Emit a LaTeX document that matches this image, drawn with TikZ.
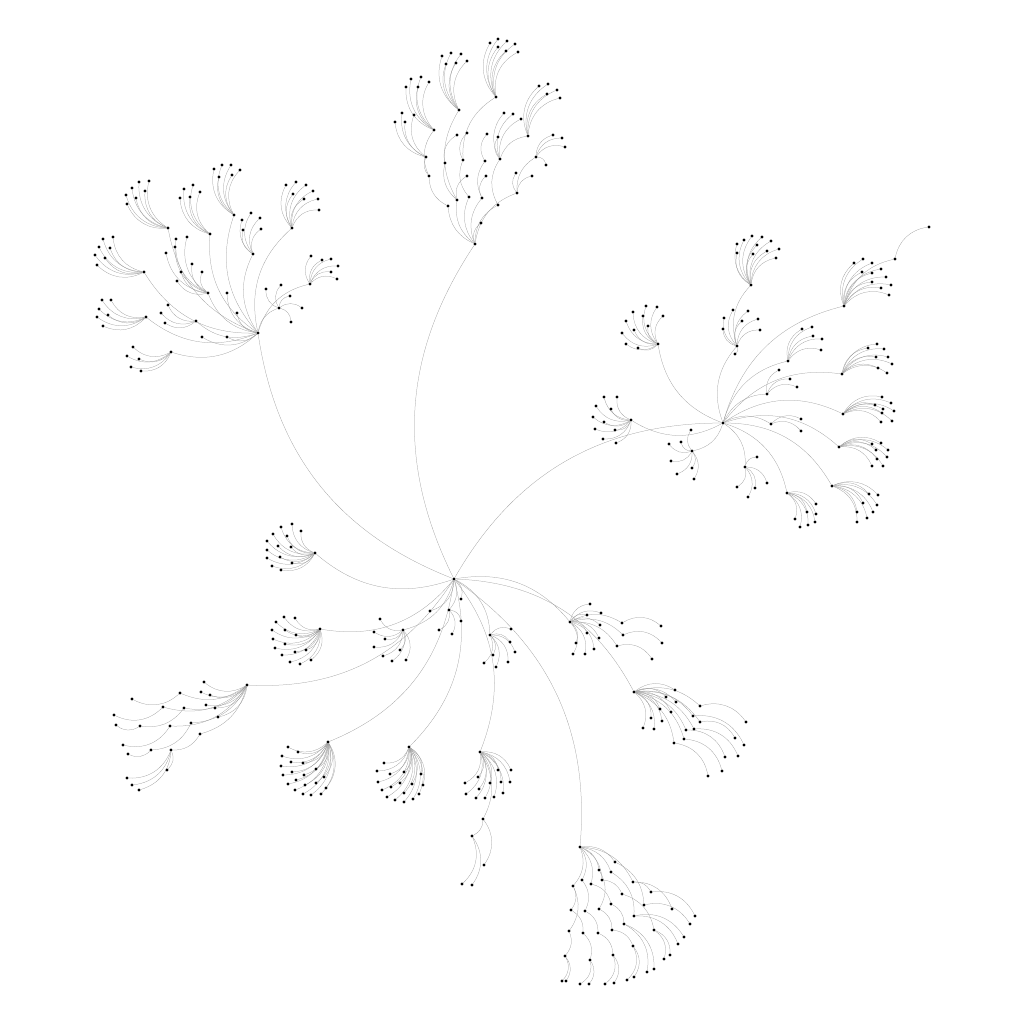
\documentclass[tikz,border=0pt]{standalone}
\pgfdeclarelayer{bg}
\pgfsetlayers{bg,main}
\def\hubs{H1/258/333/C, A1/168/228/H1, B1/210/234/H1, C1/234/215/H1, D1/253/254/H1, E1/292/228/H1, F1/310/284/H1, G1/279/308/H1, Kh/144/272/H1, I1/208/293/H1, J1/196/321/H1, K1/146/317/H1, L1/171/352/H1,
H2/475/244/C, m1/448/206/H2, m2/429/176/m1, D2/426/157/m2, C2/434/130/m2, m10/457/200/H2, m3/445/163/m10, A2/459/110/m10, m5/469/197/H2, m4/463/160/m5, B2/496/97/m4, m6/498/205/H2, F2/500/159/m6, E2/528/136/F2, m7/482/198/H2, m8/485/161/m7, m9/517/193/H2, G2/536/157/m9,
H3/723/423/C, S1/631/420/H3, S2/658/344/H3, S4/737/346/H3, S3/751/285/S4, S5/844/306/H3, T5/895/259/S5, S6/788/361/H3, S7/767/394/H3, S8/842/374/H3, S9/843/414/H3, S10/839/447/H3, S11/832/486/H3, S12/787/493/H3, S13/745/467/H3, S14/692/451/H3, S15/771/424/H3,
P1/315/553/C, P2/320/629/C, P3/403/630/C, P4/449/610/C, P5/490/635/C,
Q/247/685/C, q1/180/693/Q, q2/163/707/Q, q3/184/708/Q, q4/140/726/q3, q5/170/726/Q, q6/191/723/Q, q6b/151/750/q6, q7/200/734/Q, q7b/171/750/q7,
R1/328/742/C, R2/409/747/C, R3/480/752/C, r1/483/819/R3, r2/472/836/r1,
T1/570/622/C, t1/622/623/T1, t2/623/635/T1, t3/617/646/T1,
T2/634/692/C, u1/700/706/T2, u2/693/716/T2, u3/700/722/T2, u4/694/729/T2, u5/686/730/T2, u6/684/739/T2, u7/674/743/T2,
U/580/847/C, n1/615/862/U, n2/599/870/U, n3/611/872/U, n4/582/880/U, n5/573/886/U, n6/591/884/U, n7/602/880/U, n8/633/882/U, a1/651/892/n8, a2/644/905/n1, a3/634/916/n3, a4/622/894/n7, a5/654/930/a4, a6/611/904/n6, a7/624/924/a6, a8/599/909/n2, a9/612/930/a8, a10/633/946/a9, a11/585/911/n4, a12/598/933/a11, a13/613/955/a12, a14/571/910/n5, a15/583/933/a14, a16/590/960/a15, a17/569/931/n5, a18/565/956/a17}
\def\leaves{132/188/A1, 139/182/A1, 149/181/A1, 145/191/A1, 136/198/A1, 126/195/A1, 127/204/A1,
184/189/B1, 193/185/B1, 200/192/B1, 190/197/B1, 180/198/B1,
214/169/C1, 222/165/C1, 231/165/C1, 240/170/C1, 232/175/C1, 219/177/C1,
242/220/D1, 251/213/D1, 260/218/D1, 261/229/D1, 243/230/D1,
286/185/E1, 296/182/E1, 306/185/E1, 313/191/E1, 318/199/E1, 319/210/E1, 304/199/E1, 293/194/E1,
311/256/F1, 322/260/F1, 331/259/F1, 338/266/F1, 331/272/F1, 337/279/F1,
266/289/G1, 281/285/G1, 290/296/G1, 302/308/G1, 291/322/G1,
103/239/Kh, 113/237/Kh, 99/247/Kh, 110/248/Kh, 95/255/Kh, 105/258/Kh, 97/265/Kh,
166/253/I1, 175/247/I1, 176/239/I1, 187/237/I1, 192/264/I1, 202/272/I1, 181/272/I1, 177/281/I1,
168/305/J1, 161/313/J1, 165/323/J1,
102/300/K1, 111/300/K1, 99/309/K1, 108/315/K1, 97/317/K1, 103/326/K1,
133/347/L1, 127/356/L1, 139/359/L1, 131/367/L1, 141/371/L1,
227/293/H1, 237/313/H1, 202/337/H1, 227/337/H1,
402/113/D2, 395/122/D2, 405/122/D2, 414/115/D2,
411/79/C2, 421/77/C2, 429/82/C2, 418/87/C2, 406/87/C2,
442/56/A2, 451/53/A2, 461/54/A2, 446/64/A2, 456/63/A2, 467/61/A2,
467/176/m10, 457/135/m3,
490/43/B2, 498/39/B2, 507/41/B2, 515/44/B2, 518/52/B2, 506/51/B2, 498/47/B2,
467/133/m4,
504/113/F2, 513/114/F2, 521/119/F2, 498/137/F2,
539/86/E2, 548/84/E2, 557/90/E2, 560/98/E2, 547/94/E2,
487/134/m8, 486/176/m7, 516/173/m9, 532/176/m9,
553/135/G2, 562/138/G2, 565/147/G2, 546/165/G2,
481/223/H2,
604/397/S1, 617/397/S1, 596/406/S1, 611/409/S1, 593/417/S1, 604/422/S1, 595/429/S1, 615/430/S1, 603/439/S1, 616/443/S1,
633/312/S2, 646/306/S2, 657/307/S2, 663/316/S2, 626/321/S2, 643/316/S2, 648/326/S2, 634/330/S2, 622/333/S2, 626/344/S2, 638/348/S2,
737/244/S3, 744/240/S3, 752/236/S3, 762/237/S3, 771/241/S3, 757/245/S3, 779/249/S3, 767/251/S3, 753/254/S3, 776/258/S3, 737/253/S3,
724/318/S4, 733/310/S4, 748/311/S4, 758/319/S4, 742/321/S4, 760/330/S4, 723/329/S4, 735/354/S4,
854/263/S5, 863/259/S5, 872/263/S5, 862/272/S5, 872/273/S5, 881/269/S5, 886/277/S5, 872/282/S5, 891/285/S5, 881/288/S5, 889/295/S5,
929/227/T5,
802/329/S6, 812/327/S6, 813/336/S6, 822/339/S6, 821/350/S6,
779/370/S7, 790/379/S7, 797/387/S7,
868/348/S8, 877/344/S8, 884/349/S8, 876/357/S8, 888/357/S8, 892/364/S8, 878/368/S8, 887/373/S8,
882/397/S9, 891/403/S9, 875/405/S9, 883/409/S9, 894/411/S9, 882/413/S9, 892/421/S9, 881/422/S9,
872/444/S10, 881/443/S10, 888/450/S10, 876/450/S10, 887/457/S10, 877/459/S10, 883/466/S10, 872/466/S10,
869/494/S11, 878/495/S11, 863/503/S11, 877/505/S11, 873/512/S11, 857/512/S11, 867/518/S11, 857/522/S11,
816/504/S12, 807/512/S12, 816/514/S12, 795/519/S12, 815/522/S12, 808/525/S12, 800/527/S12,
757/457/S13, 737/487/S13, 748/497/S13, 755/488/S13, 767/483/S13,
691/430/S14, 669/444/S14, 681/442/S14, 671/461/S14, 677/474/S14, 692/468/S14, 694/479/S14,
801/419/S15, 801/431/S15,
281/527/P1, 292/524/P1, 301/531/P1, 273/534/P1, 287/536/P1, 267/541/P1, 278/546/P1, 291/547/P1, 267/550/P1, 280/557/P1, 267/558/P1, 292/563/P1, 272/566/P1, 281/570/P1,
284/617/P2, 295/618/P2, 276/622/P2, 285/630/P2, 296/635/P2, 272/630/P2, 273/639/P2, 285/644/P2, 275/648/P2, 295/652/P2, 306/650/P2, 282/655/P2, 290/662/P2, 300/664/P2, 311/660/P2,
380/619/P3, 374/632/P3, 385/639/P3, 374/647/P3, 400/650/P3, 383/656/P3, 392/661/P3, 406/660/P3,
461/621/P4, 452/634/P4, 439/630/P4,
511/629/P5, 510/642/P5, 515/652/P5, 508/662/P5, 496/667/P5, 493/655/P5, 484/663/P5,
461/599/C, 430/611/C,
132/699/q1, 114/715/q2, 116/725/q4, 123/745/q5, 128/754/q6b, 127/778/q7b, 132/785/q7b, 139/790/q7b, 167/770/q7b,
204/682/Q, 201/692/Q, 210/695/Q, 206/705/Q, 215/708/Q, 218/717/Q,
288/747/R1, 298/752/R1, 282/756/R1, 291/762/R1, 303/763/R1, 281/766/R1, 292/772/R1, 316/769/R1, 283/775/R1, 304/775/R1, 296/780/R1, 324/777/R1, 288/784/R1, 305/785/R1, 316/783/R1, 326/788/R1, 295/790/R1, 303/794/R1, 311/795/R1, 321/794/R1,
384/763/R2, 377/771/R2, 390/774/R2, 404/772/R2, 421/774/R2, 378/782/R2, 400/783/R2, 412/784/R2, 423/785/R2, 382/790/R2, 391/787/R2, 404/793/R2, 419/794/R2, 387/797/R2, 395/800/R2, 404/802/R2, 413/799/R2,
465/783/R3, 478/777/R3, 490/783/R3, 498/770/R3, 511/770/R3, 501/782/R3, 510/782/R3, 466/794/R3, 476/798/R3, 479/789/R3, 485/798/R3, 494/797/R3, 503/793/R3,
484/865/r1, 462/884/r2, 472/885/r2,
590/604/T1, 587/615/T1, 601/613/T1, 600/625/T1, 587/633/T1, 599/638/T1, 576/643/T1, 594/649/T1, 573/654/T1, 585/654/T1,
661/626/t1, 662/643/t2, 652/659/t3,
675/690/T2, 666/697/T2, 676/702/T2, 660/709/T2, 671/712/T2, 651/718/T2, 662/721/T2, 643/728/T2, 654/729/T2,
746/722/u1, 744/745/u2, 735/738/u3, 738/756/u4, 725/757/u5, 722/771/u6, 708/776/u7,
695/916/a1, 672/909/n8, 690/924/a2, 684/937/a3, 678/944/a3, 670/955/a5, 664/959/a5, 654/969/a7, 647/972/a7, 634/977/a10, 627/980/a10, 614/983/a13, 605/984/a13, 589/984/a16, 580/984/a16, 562/981/a18, 566/981/a18}
\begin{document}
\begin{tikzpicture}[x=1pt,y=-1pt,
  dot/.style={circle,fill=black,inner sep=0pt,minimum size=3.2pt},
  edge/.style={draw=black!40,line width=0.25pt}]
\useasboundingbox (0,0) rectangle (1024,1024);
\node[dot] (C) at (454,579) {};
\foreach \n/\x/\y/\p in \hubs { \node[dot] (\n) at (\x,\y) {}; }
\foreach \x/\y/\p [count=\i] in \leaves { \node[dot] (v\i) at (\x,\y) {}; }
\begin{pgfonlayer}{bg}
\foreach \n/\x/\y/\p in \hubs { \draw[edge] (\p) to[bend left=30] (\n); }
\foreach \x/\y/\p [count=\i] in \leaves { \draw[edge] (\p) to[bend left=35] (v\i); }
\end{pgfonlayer}
\end{tikzpicture}
\end{document}
